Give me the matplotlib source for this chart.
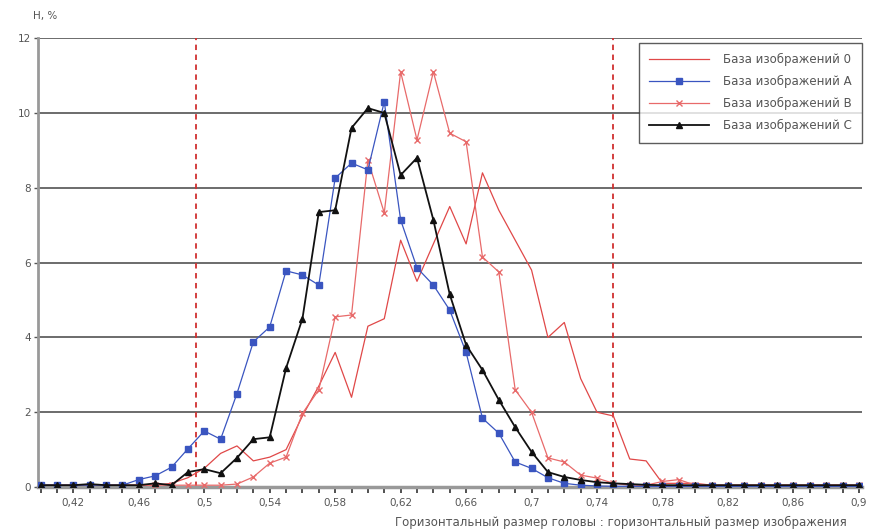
import matplotlib
matplotlib.use("Agg")
import matplotlib.pyplot as plt
from matplotlib.ticker import MultipleLocator

plt.rcParams['font.family'] = ['DejaVu Sans']

x = [round(0.40 + 0.01 * i, 2) for i in range(51)]

series_0 = [0.05, 0.05, 0.05, 0.05, 0.05, 0.05, 0.05, 0.05, 0.1, 0.25,
            0.5, 0.9, 1.1, 0.7, 0.8, 1.0, 1.9, 2.7, 3.6, 2.4,
            4.3, 4.5, 6.6, 5.5, 6.5, 7.5, 6.5, 8.4, 7.4, 6.6,
            5.8, 4.0, 4.4, 2.9, 2.0, 1.9, 0.75, 0.7, 0.1, 0.1,
            0.1, 0.05, 0.05, 0.05, 0.05, 0.05, 0.05, 0.05, 0.05, 0.05, 0.05]

series_a = [0.05, 0.05, 0.05, 0.05, 0.05, 0.05, 0.2, 0.3, 0.53, 1.02,
            1.5, 1.28, 2.5, 3.88, 4.28, 5.78, 5.67, 5.4, 8.26, 8.66,
            8.48, 10.3, 7.14, 5.86, 5.4, 4.73, 3.6, 1.84, 1.44, 0.67,
            0.5, 0.25, 0.1, 0.05, 0.03, 0.02, 0.02, 0.02, 0.02, 0.02,
            0.02, 0.02, 0.02, 0.02, 0.02, 0.02, 0.02, 0.02, 0.02, 0.02, 0.02]

series_b = [0.05, 0.05, 0.05, 0.05, 0.05, 0.05, 0.05, 0.05, 0.05, 0.05,
            0.05, 0.05, 0.08, 0.27, 0.64, 0.8, 1.97, 2.6, 4.55, 4.6,
            8.74, 7.33, 11.1, 9.28, 11.1, 9.46, 9.23, 6.15, 5.75, 2.6,
            2.0, 0.78, 0.67, 0.32, 0.24, 0.1, 0.05, 0.05, 0.15, 0.2,
            0.05, 0.05, 0.05, 0.05, 0.05, 0.05, 0.05, 0.05, 0.05, 0.05, 0.05]

series_c = [0.05, 0.05, 0.05, 0.08, 0.05, 0.05, 0.05, 0.1, 0.05, 0.4,
            0.48, 0.37, 0.78, 1.28, 1.33, 3.18, 4.5, 7.35, 7.4, 9.6,
            10.13, 10.0, 8.34, 8.8, 7.14, 5.15, 3.8, 3.13, 2.33, 1.6,
            0.94, 0.4, 0.27, 0.19, 0.13, 0.1, 0.08, 0.06, 0.05, 0.05,
            0.05, 0.05, 0.05, 0.05, 0.05, 0.05, 0.05, 0.05, 0.05, 0.05, 0.05]

names = ["База изображений 0", "База изображений A",
         "База изображений B", "База изображений C"]

major_ticks = [0.42, 0.46, 0.50, 0.54, 0.58, 0.62, 0.66, 0.70, 0.74, 0.78, 0.82, 0.86, 0.90]
major_labels = ["0,42", "0,46", "0,5", "0,54", "0,58", "0,62", "0,66", "0,7",
                "0,74", "0,78", "0,82", "0,86", "0,9"]
bounds = [0.495, 0.75]

fig = plt.figure(figsize=(8.7, 5.3), dpi=100)
ax = fig.add_axes([0.044, 0.081, 0.947, 0.847])

for yv in range(2, 13, 2):
    ax.axhline(yv, color='#444444', lw=1.1, zorder=1)

for b in bounds:
    ax.axvline(b, color='#d03030', lw=1.3, ls=(0, (3, 2.5)), zorder=2)

ax.plot(x, series_0, color='#e04848', lw=0.9, label=names[0], zorder=3)
ax.plot(x, series_a, color='#3a55c0', lw=0.9, marker='s', ms=4.5,
        mec='#3a55c0', label=names[1], zorder=4)
ax.plot(x, series_b, color='#e86a6a', lw=0.9, marker='x', ms=5, mew=1.0,
        label=names[2], zorder=3)
ax.plot(x, series_c, color='#111111', lw=1.3, marker='^', ms=4.5,
        label=names[3], zorder=5)

ax.set_xlim(0.3986, 0.902)
ax.set_ylim(0, 12)
ax.set_xticks(major_ticks)
ax.set_xticklabels(major_labels)
ax.xaxis.set_minor_locator(MultipleLocator(0.01))
ax.set_yticks(range(0, 13, 2))
ax.tick_params(axis='both', labelsize=7.5, colors='#555555', labelcolor='#555555')
ax.tick_params(axis='x', which='both', direction='out', length=4, width=1.2, color='#333333', pad=4)
ax.tick_params(axis='y', length=3, width=1, pad=2)

for s in ['top', 'right']:
    ax.spines[s].set_visible(False)
ax.spines['left'].set_color('#999999')
ax.spines['left'].set_linewidth(2)
ax.spines['bottom'].set_color('#999999')
ax.spines['bottom'].set_linewidth(2.5)

leg = ax.legend(loc='upper right', bbox_to_anchor=(1.0, 0.99), fontsize=8.5,
                frameon=True, fancybox=False, edgecolor='#333333',
                borderpad=0.9, labelspacing=0.75, handlelength=5.0,
                handletextpad=1.2, borderaxespad=0.0)
leg.get_frame().set_linewidth(1.0)
for t in leg.get_texts():
    t.set_color('#555555')

fig.text(0.038, 0.965, "H, %", fontsize=7.5, color='#555555')
fig.text(0.454, 0.008, "Горизонтальный размер головы : горизонтальный размер изображения",
         fontsize=8.5, color='#555555')

fig.savefig("out.png", dpi=100)
